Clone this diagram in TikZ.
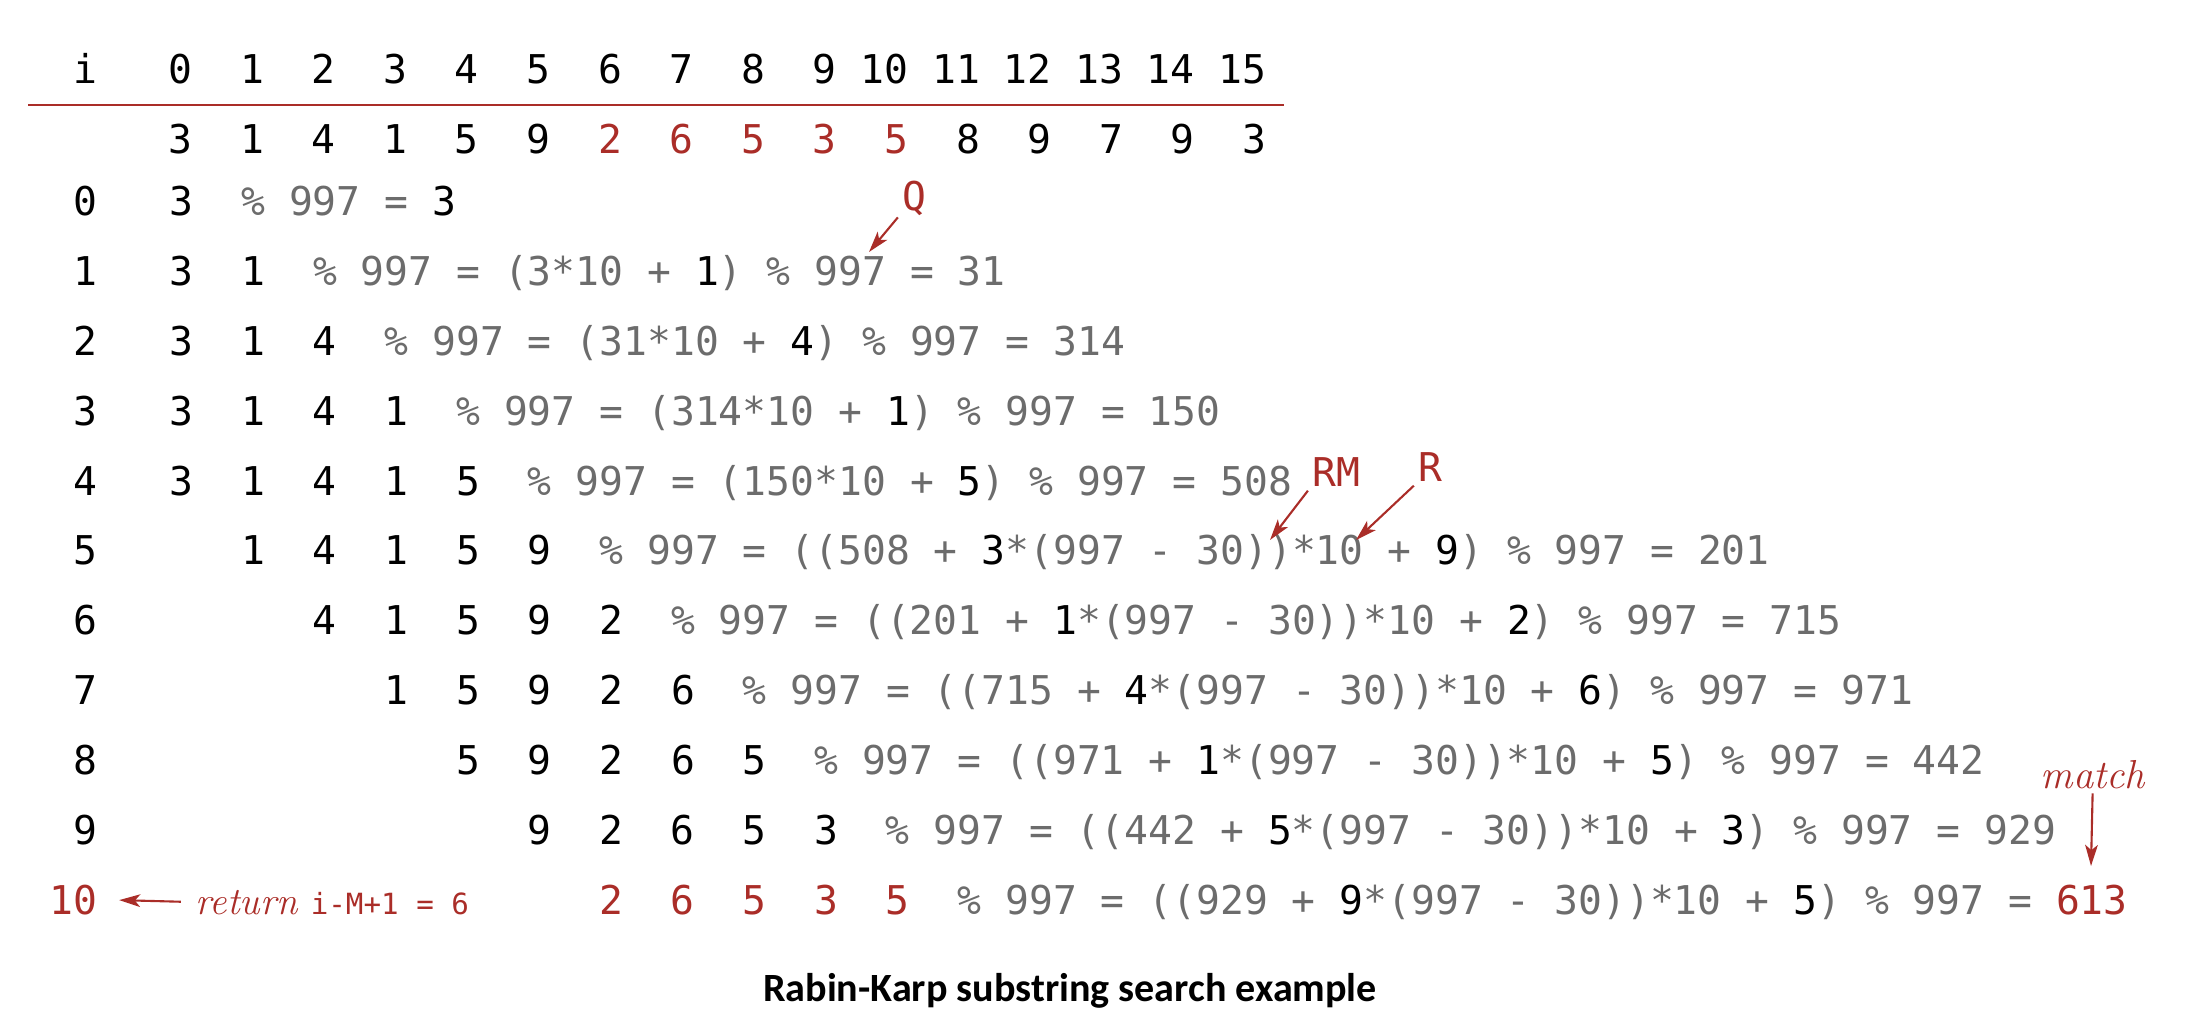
\documentclass[tikz,border=0pt]{standalone}
\usepackage{fontspec}
\newfontfamily\codefont{DejaVu Sans Mono}
\newfontfamily\titlefont{Carlito}
\usetikzlibrary{arrows.meta}
\definecolor{bookred}{RGB}{170,45,40}
\definecolor{codegray}{RGB}{108,108,108}
\newcommand{\gr}[1]{\textcolor{codegray}{#1}}
\newcommand{\kd}[1]{\textcolor{black}{#1}}
\begin{document}
\begin{tikzpicture}[x=0.01cm, y=-0.01cm, >={Stealth[length=6pt,width=3.6pt,inset=1.5pt]},
    code/.style={font=\codefont\fontsize{11.28}{13}\selectfont},
    num/.style={code, anchor=base east, inner sep=0pt},
    row/.style={code, anchor=base west, inner sep=0pt},
    note/.style={code, text=bookred, inner sep=1pt},
    pointer/.style={->, draw=bookred, line width=0.6pt}]
    \useasboundingbox (0,0) rectangle (2188,1022);
    % index header and text
    \node[num] (hi) at (98,84) {i};
    \foreach \n in {0,...,15}
        \node[num] (h\n) at ({193+71.6*\n},84) {\n};
    \draw[bookred, line width=0.8pt] (28,105) -- (1284,105);
    \foreach \d/\c [count=\k from 0] in {3/black,1/black,4/black,1/black,5/black,9/black,2/bookred,6/bookred,5/bookred,3/bookred,5/bookred,8/black,9/black,7/black,9/black,3/black}
        \node[num, text=\c] (t\k) at ({193+71.6*\k},154) {\d};
    % row numbers
    \foreach \r in {0,...,9}
        \node[num] (r\r) at (98,{216+69.8*\r}) {\r};
    \node[num, text=bookred] (r10) at (98,914) {10};
    % hash computations
    \node[row] (s0) at (169,216) {3~~\gr{\% 997 = \kd{3}}};
    \node[row] (s1) at (169,285.8) {3~~1~~\gr{\% 997 = (3*10 + \kd{1}) \% 997 = 31}};
    \node[row] (s2) at (169,355.6) {3~~1~~4~~\gr{\% 997 = (31*10 + \kd{4}) \% 997 = 314}};
    \node[row] (s3) at (169,425.4) {3~~1~~4~~1~~\gr{\% 997 = (314*10 + \kd{1}) \% 997 = 150}};
    \node[row] (s4) at (169,495.2) {3~~1~~4~~1~~5~~\gr{\% 997 = (150*10 + \kd{5}) \% 997 = 508}};
    \node[row] (s5) at (240.6,565) {1~~4~~1~~5~~9~~\gr{\% 997 = ((508 + \kd{3}*(997 - 30))*10 + \kd{9}) \% 997 = 201}};
    \node[row] (s6) at (312.2,634.8) {4~~1~~5~~9~~2~~\gr{\% 997 = ((201 + \kd{1}*(997 - 30))*10 + \kd{2}) \% 997 = 715}};
    \node[row] (s7) at (383.8,704.6) {1~~5~~9~~2~~6~~\gr{\% 997 = ((715 + \kd{4}*(997 - 30))*10 + \kd{6}) \% 997 = 971}};
    \node[row] (s8) at (455.4,774.4) {5~~9~~2~~6~~5~~\gr{\% 997 = ((971 + \kd{1}*(997 - 30))*10 + \kd{5}) \% 997 = 442}};
    \node[row] (s9) at (527,844.2) {9~~2~~6~~5~~3~~\gr{\% 997 = ((442 + \kd{5}*(997 - 30))*10 + \kd{3}) \% 997 = 929}};
    \node[row] (s10) at (598.6,914) {\textcolor{bookred}{2~~6~~5~~3~~5}~~\gr{\% 997 = ((929 + \kd{9}*(997 - 30))*10 + \kd{5}) \% 997 = \textcolor{bookred}{613}}};
    % labels and pointers
    \node[note] (q) at (914,198) {Q};
    \coordinate (qtip) at (869,252);
    \draw[pointer] (q) -- (qtip);
    \node[note] (rm) at (1336,472) {RM};
    \coordinate (rmtip) at (1270,540);
    \draw[pointer] (rm.south west) -- (rmtip);
    \node[note] (rr) at (1430,467) {R};
    \coordinate (rtip) at (1356,540);
    \draw[pointer] (rr.south west) -- (rtip);
    \node[note, font=\itshape\fontsize{11.5}{13}\selectfont] (match) at (2093,775) {match};
    \coordinate (mtip) at (2091,866);
    \draw[pointer] (match) -- (mtip);
    \node[anchor=base west, inner sep=0pt, text=bookred] (ret) at (195,914)
        {\itshape\fontsize{11}{13}\selectfont return \codefont\upshape\fontsize{8.3}{10}\selectfont i-M+1 = 6};
    \draw[pointer, shorten <=4pt, shorten >=6pt] (ret.west) -- (r10.east);
    \node[font=\titlefont\bfseries\fontsize{11.4}{13}\selectfont] (title) at (1070,991) {Rabin-Karp substring search example};
\end{tikzpicture}
\end{document}
